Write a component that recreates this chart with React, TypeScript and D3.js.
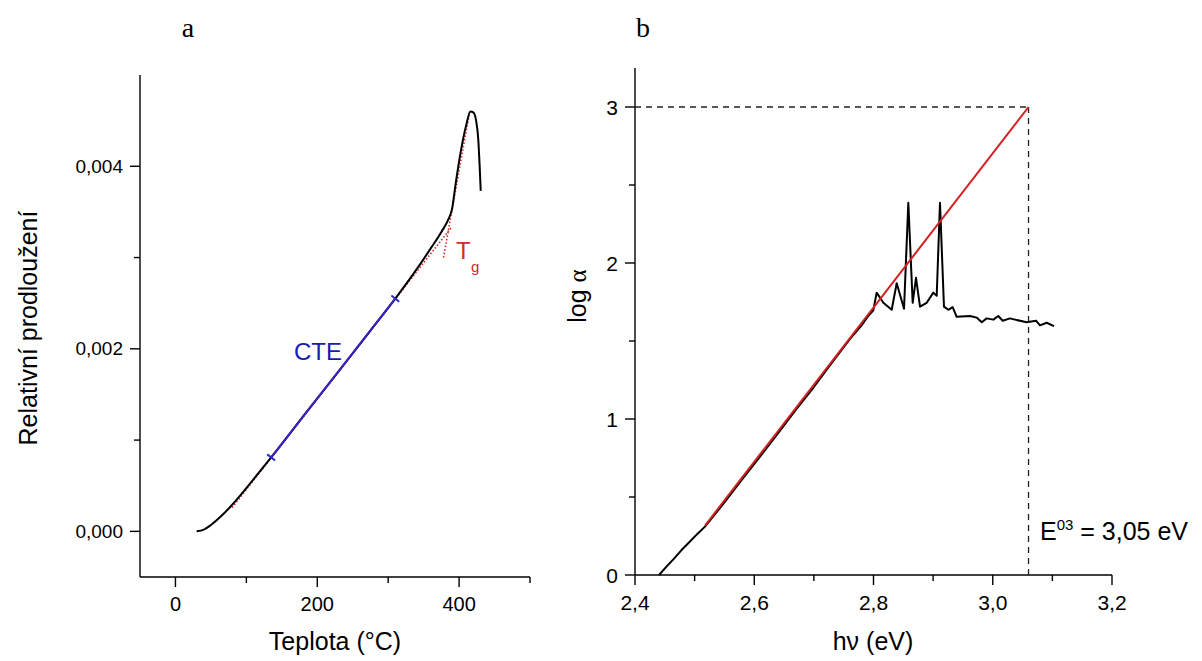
import React from "react";
import * as d3 from "d3";

// ---------- Panel a data (Teplota °C, relativní prodloužení) ----------
const dilatoT = [30, 40, 50, 65, 81, 110, 135, 185, 237, 275, 310, 340, 360, 375, 385, 390, 395, 401, 410, 416, 420, 424, 427, 429, 430.5];
const dilatoV = [0, 0.00002, 0.00007, 0.00017, 0.0003, 0.00057, 0.00081, 0.00131, 0.00182, 0.0022, 0.00255, 0.00287, 0.0031, 0.00328, 0.00342, 0.00353, 0.0038, 0.0041, 0.00445, 0.0046, 0.00459, 0.0045, 0.0043, 0.004, 0.00373];
const glassFitT = [80, 390];
const glassFitV = [0.00026, 0.00334];
const meltFitT = [378, 415];
const meltFitV = [0.003, 0.0046];
const cteT = [135, 310];
const cteV = [0.00081, 0.00255];
const aXMajor = [0, 200, 400];
const aXMinor = [100, 300, 500];
const aYMajor = [0, 0.002, 0.004];
const aYMinor = [0.001, 0.003];
const aYLabels = ["0,000", "0,002", "0,004"];

// ---------- Panel b data (hν eV, log α) ----------
const absE = [2.4403, 2.4531, 2.4643, 2.478, 2.4922, 2.505, 2.5174, 2.55, 2.58, 2.61, 2.64, 2.67, 2.7, 2.73, 2.76, 2.78, 2.79, 2.7997, 2.8053, 2.8165, 2.8305, 2.8389, 2.8512, 2.8584, 2.8657, 2.8713, 2.878, 2.8892, 2.9003, 2.906, 2.9115, 2.9182, 2.9255, 2.9328, 2.9395, 2.9618, 2.973, 2.9815, 2.9898, 3.001, 3.0093, 3.0167, 3.0289, 3.0373, 3.0569, 3.0725, 3.0792, 3.0905, 3.1027];
const absLog = [0, 0.055, 0.1, 0.16, 0.215, 0.265, 0.31, 0.465, 0.615, 0.76, 0.91, 1.06, 1.205, 1.36, 1.51, 1.6, 1.655, 1.697, 1.81, 1.745, 1.7, 1.87, 1.707, 2.386, 1.745, 1.905, 1.72, 1.745, 1.81, 1.79, 2.386, 1.72, 1.7, 1.717, 1.655, 1.66, 1.65, 1.62, 1.645, 1.637, 1.66, 1.63, 1.645, 1.637, 1.62, 1.63, 1.6, 1.617, 1.595];
const edgeFitE = [2.5174, 3.06];
const edgeFitLog = [0.317, 3.0];
const e03 = 3.06;
const e03Log = 3;
const bXMajor = [2.4, 2.6, 2.8, 3.0, 3.2];
const bXMinor = [2.5, 2.7, 2.9, 3.1];
const bYMajor = [0, 1, 2, 3];
const bYMinor = [0.5, 1.5, 2.5];

const SANS = "'Liberation Sans', Arial, sans-serif";
const SERIF = "'Liberation Serif', 'Times New Roman', serif";
const fmtComma = (v: number, d: number) => v.toFixed(d).replace(".", ",");

export default function App() {
  const W = 1202, H = 661;
  const xA = d3.scaleLinear().domain([-50, 500]).range([140, 530]);
  const yA = d3.scaleLinear().domain([-0.0005, 0.005]).range([577, 75]);
  const xB = d3.scaleLinear().domain([2.4, 3.2]).range([635, 1112]);
  const yB = d3.scaleLinear().domain([0, 3.25]).range([575, 68]);

  const pathFrom = (xs: number[], ys: number[], sx: any, sy: any, curve: any) =>
    d3.line<number>()
      .x((_, i) => sx(xs[i]))
      .y((_, i) => sy(ys[i]))
      .curve(curve)(xs) as string;

  const dilatoPath = pathFrom(dilatoT, dilatoV, xA, yA, d3.curveMonotoneX);
  const glassPath = pathFrom(glassFitT, glassFitV, xA, yA, d3.curveLinear);
  const meltPath = pathFrom(meltFitT, meltFitV, xA, yA, d3.curveLinear);
  const ctePath = pathFrom(cteT, cteV, xA, yA, d3.curveLinear);
  const absPath = pathFrom(absE, absLog, xB, yB, d3.curveLinear);
  const edgePath = pathFrom(edgeFitE, edgeFitLog, xB, yB, d3.curveLinear);

  // CTE end markers (perpendicular ticks)
  const cx0 = xA(cteT[0]), cy0 = yA(cteV[0]), cx1 = xA(cteT[1]), cy1 = yA(cteV[1]);
  const len = Math.hypot(cx1 - cx0, cy1 - cy0);
  const px = -(cy1 - cy0) / len * 5, py = (cx1 - cx0) / len * 5;

  const axisStyle = { stroke: "#000", strokeWidth: 1.4 };

  return (
    <svg width={W} height={H} style={{ position: "absolute", left: 0, top: 0, background: "#fff" }}>
      {/* ================= Panel a ================= */}
      <text x={188} y={37} fontFamily={SERIF} fontSize={28} textAnchor="middle">a</text>
      <line x1={xA(-50)} x2={xA(500)} y1={yA(-0.0005)} y2={yA(-0.0005)} {...axisStyle} />
      <line x1={xA(-50)} x2={xA(-50)} y1={yA(-0.0005)} y2={yA(0.005)} {...axisStyle} />
      {aXMajor.map((t) => (
        <g key={"axM" + t}>
          <line x1={xA(t)} x2={xA(t)} y1={577} y2={587} {...axisStyle} />
          <text x={xA(t)} y={611} fontFamily={SANS} fontSize={20} textAnchor="middle">{t}</text>
        </g>
      ))}
      {aXMinor.map((t) => (
        <line key={"axm" + t} x1={xA(t)} x2={xA(t)} y1={577} y2={583} {...axisStyle} />
      ))}
      {aYMajor.map((v, i) => (
        <g key={"ayM" + v}>
          <line x1={130} x2={140} y1={yA(v)} y2={yA(v)} {...axisStyle} />
          <text x={123} y={yA(v) + 6.5} fontFamily={SANS} fontSize={19} textAnchor="end">{aYLabels[i]}</text>
        </g>
      ))}
      {aYMinor.map((v) => (
        <line key={"aym" + v} x1={134} x2={140} y1={yA(v)} y2={yA(v)} {...axisStyle} />
      ))}
      <text x={335} y={650} fontFamily={SANS} fontSize={25} textAnchor="middle">Teplota (°C)</text>
      <text transform={`translate(37,328) rotate(-90)`} fontFamily={SANS} fontSize={25} textAnchor="middle">Relativní prodloužení</text>

      <path d={glassPath} fill="none" stroke="#d42a2a" strokeWidth={1.6} strokeDasharray="1.5,2" />
      <path d={meltPath} fill="none" stroke="#d42a2a" strokeWidth={1.6} strokeDasharray="1.5,2" />
      <path d={dilatoPath} fill="none" stroke="#000" strokeWidth={2} />
      <path d={ctePath} fill="none" stroke="#3a22c8" strokeWidth={2} />
      <line x1={cx0 - px} y1={cy0 - py} x2={cx0 + px} y2={cy0 + py} stroke="#2a2ac8" strokeWidth={2} />
      <line x1={cx1 - px} y1={cy1 - py} x2={cx1 + px} y2={cy1 + py} stroke="#2a2ac8" strokeWidth={2} />
      <text x={318} y={360} fontFamily={SANS} fontSize={24} fill="#1a1ab0" textAnchor="middle">CTE</text>
      <text x={456} y={259} fontFamily={SANS} fontSize={24} fill="#d42a2a">T</text>
      <text x={471} y={272} fontFamily={SANS} fontSize={15} fill="#d42a2a">g</text>

      {/* ================= Panel b ================= */}
      <text x={643} y={37} fontFamily={SERIF} fontSize={28} textAnchor="middle">b</text>
      <line x1={xB(2.4)} x2={xB(3.2)} y1={yB(0)} y2={yB(0)} {...axisStyle} />
      <line x1={xB(2.4)} x2={xB(2.4)} y1={yB(0)} y2={yB(3.25)} {...axisStyle} />
      {bXMajor.map((t) => (
        <g key={"bxM" + t}>
          <line x1={xB(t)} x2={xB(t)} y1={575} y2={585} {...axisStyle} />
          <text x={xB(t)} y={610} fontFamily={SANS} fontSize={21} textAnchor="middle">{fmtComma(t, 1)}</text>
        </g>
      ))}
      {bXMinor.map((t) => (
        <line key={"bxm" + t} x1={xB(t)} x2={xB(t)} y1={575} y2={581} {...axisStyle} />
      ))}
      {bYMajor.map((v) => (
        <g key={"byM" + v}>
          <line x1={625} x2={635} y1={yB(v)} y2={yB(v)} {...axisStyle} />
          <text x={618} y={yB(v) + 7.5} fontFamily={SANS} fontSize={21} textAnchor="end">{v}</text>
        </g>
      ))}
      {bYMinor.map((v) => (
        <line key={"bym" + v} x1={629} x2={635} y1={yB(v)} y2={yB(v)} {...axisStyle} />
      ))}
      <text x={873} y={650} fontFamily={SANS} fontSize={25} textAnchor="middle">hν (eV)</text>
      <text transform={`translate(586,296) rotate(-90)`} fontFamily={SANS} fontSize={25} textAnchor="middle">
        log <tspan fontFamily={SERIF}>α</tspan>
      </text>

      <line x1={xB(2.4)} x2={xB(e03)} y1={yB(e03Log)} y2={yB(e03Log)} stroke="#222" strokeWidth={1.3} strokeDasharray="6,5" />
      <line x1={xB(e03)} x2={xB(e03)} y1={yB(e03Log)} y2={yB(0)} stroke="#222" strokeWidth={1.3} strokeDasharray="6,5" />

      <path d={absPath} fill="none" stroke="#000" strokeWidth={2} strokeLinejoin="round" />
      <path d={edgePath} fill="none" stroke="#d42020" strokeWidth={2} />

      <text x={1040} y={540} fontFamily={SANS} fontSize={25}>
        E<tspan dy={-10} fontSize={15}>03</tspan><tspan dy={10}> = 3,05 eV</tspan>
      </text>
    </svg>
  );
}
